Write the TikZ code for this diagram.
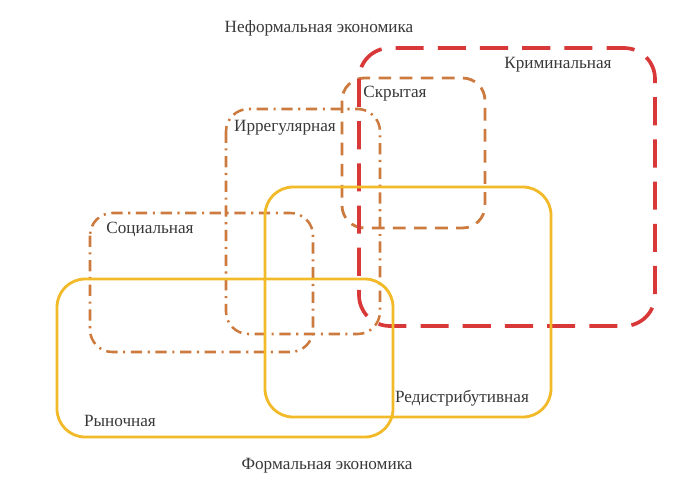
\documentclass[tikz,border=0pt]{standalone}
\usepackage{fontspec}
\setmainfont{Liberation Serif}
\begin{document}
\begin{tikzpicture}[x=0.025cm, y=-0.025cm]
    \definecolor{my-red}{rgb}{0.85,0.22,0.22}
    \definecolor{my-brown}{rgb}{0.80,0.48,0.24}
    \definecolor{my-yellow}{rgb}{0.95,0.73,0.16}
    \definecolor{my-text}{rgb}{0.22,0.22,0.22}
    \tikzset{
      crim/.style={line width=2.6pt, color=my-red, dash pattern=on 20pt off 10pt, rounded corners=22pt},
      hid/.style={line width=2pt, color=my-brown, dash pattern=on 9pt off 6pt, rounded corners=16pt},
      dashdot/.style={line width=1.8pt, color=my-brown, dash pattern=on 8pt off 4pt on 1.5pt off 4pt, rounded corners=16pt},
      formal/.style={line width=2pt, color=my-yellow, rounded corners=20pt},
      lbl/.style={text=my-text, font=\fontsize{12.2}{14}\selectfont, inner sep=0pt}
    }
    \useasboundingbox (0,0) rectangle (691,489);
    \draw[dashdot] (90,213) rectangle (313,352);
    \draw[dashdot] (226,109) rectangle (380,334);
    \draw[hid] (342,78) rectangle (485,228);
    \draw[crim] (359,48) rectangle (655,326);
    \draw[formal] (57,279) rectangle (393,437);
    \draw[formal] (265,187) rectangle (551,417);
    \node[lbl] (informal) at (319,28) {Неформальная экономика};
    \node[lbl] (criminal) at (558,65) {Криминальная};
    \node[lbl] (hidden) at (395,94) {Скрытая};
    \node[lbl] (irregular) at (285,128) {Иррегулярная};
    \node[lbl] (social) at (150,229) {Социальная};
    \node[lbl] (market) at (120,421) {Рыночная};
    \node[lbl] (redistr) at (462,398) {Редистрибутивная};
    \node[lbl] (formalecon) at (327,466) {Формальная экономика};
\end{tikzpicture}
\end{document}
